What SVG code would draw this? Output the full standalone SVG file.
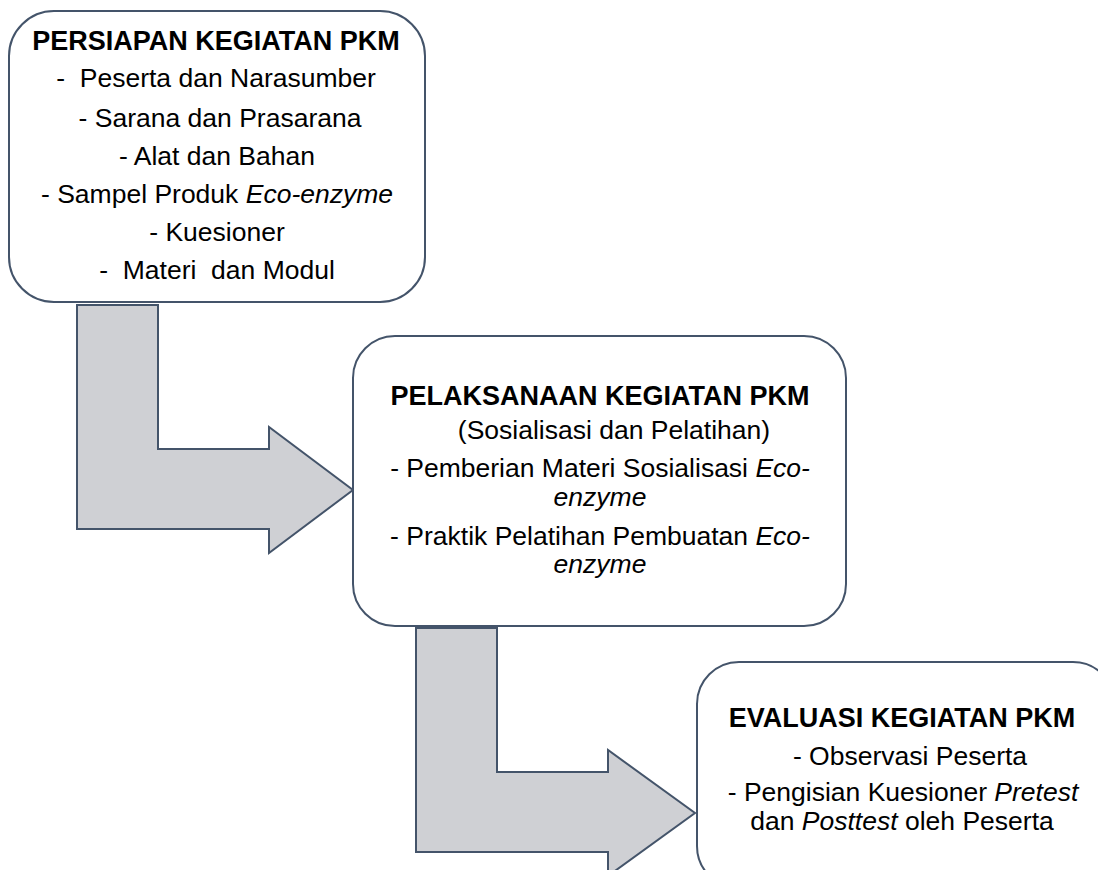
<svg xmlns="http://www.w3.org/2000/svg" width="1098" height="870" viewBox="0 0 1098 870">
  <style>
    .box { fill: #ffffff; stroke: #44546A; stroke-width: 2; }
    .arrow { fill: #CFD0D4; stroke: #44546A; stroke-width: 2; stroke-linejoin: miter; }
    text { font-family: "Liberation Sans", Arial, sans-serif; font-size: 26.5px; fill: #000000; text-anchor: middle; }
    .title { font-weight: bold; font-size: 27px; }
    .it { font-style: italic; }
  </style>
  <rect width="1098" height="870" fill="#ffffff"/>

  <g id="connectors">
    <polygon class="arrow" points="77,305 158,305 158,449 269,449 269,427 353,490 269,553 269,529 77,529"/>
    <polygon class="arrow" points="416,628 497,628 497,772 608,772 608,750 695,813 608,876 608,852 416,852"/>
  </g>

  <g id="node-persiapan">
    <rect class="box" x="9" y="11" width="416" height="291" rx="45" ry="45"/>
    <text class="title" x="216" y="50">PERSIAPAN KEGIATAN PKM</text>
    <text x="216" y="87" xml:space="preserve">-  Peserta dan Narasumber</text>
    <text x="220" y="126.5">- Sarana dan Prasarana</text>
    <text x="217" y="165">- Alat dan Bahan</text>
    <text x="217" y="203">- Sampel Produk <tspan class="it">Eco-enzyme</tspan></text>
    <text x="217" y="241">- Kuesioner</text>
    <text x="217" y="279" xml:space="preserve">-  Materi  dan Modul</text>
  </g>

  <g id="node-pelaksanaan">
    <rect class="box" x="353" y="336" width="493" height="290" rx="42" ry="42"/>
    <text class="title" x="600" y="405">PELAKSANAAN KEGIATAN PKM</text>
    <text x="614" y="439">(Sosialisasi dan Pelatihan)</text>
    <text x="600" y="477">- Pemberian Materi Sosialisasi <tspan class="it">Eco-</tspan></text>
    <text class="it" x="600" y="506">enzyme</text>
    <text x="600" y="545">- Praktik Pelatihan Pembuatan <tspan class="it">Eco-</tspan></text>
    <text class="it" x="600" y="573">enzyme</text>
  </g>

  <g id="node-evaluasi">
    <rect class="box" x="697" y="662" width="418" height="226" rx="42" ry="42"/>
    <text class="title" x="902" y="727">EVALUASI KEGIATAN PKM</text>
    <text x="910" y="765">- Observasi Peserta</text>
    <text x="903" y="801">- Pengisian Kuesioner <tspan class="it">Pretest</tspan></text>
    <text x="902" y="830">dan <tspan class="it">Posttest</tspan> oleh Peserta</text>
  </g>
</svg>
